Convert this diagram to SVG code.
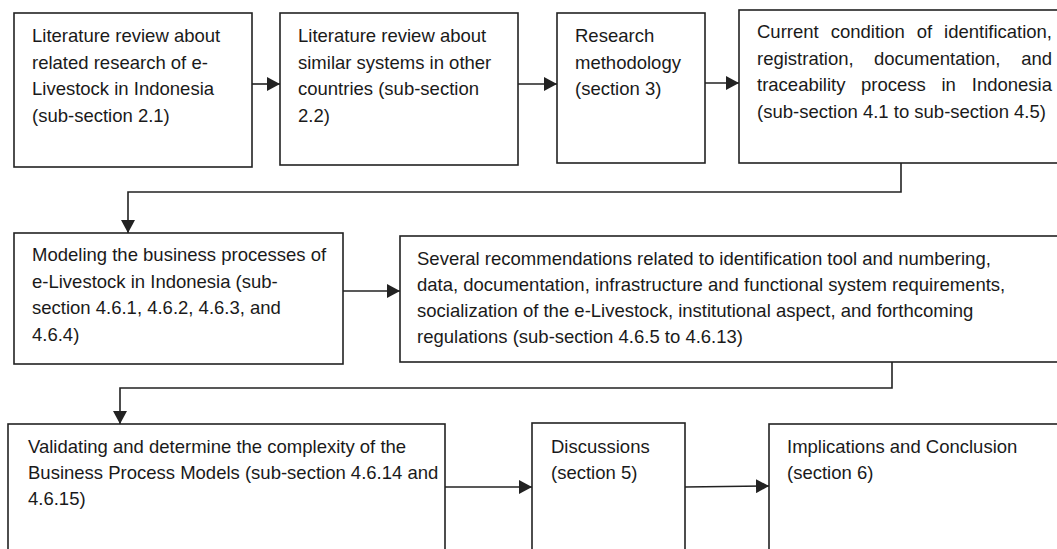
<svg xmlns="http://www.w3.org/2000/svg" width="1057" height="549" viewBox="0 0 1057 549">
<defs>
<style>
.box{fill:#fff;stroke:#222;stroke-width:1.6}
.t{font-family:"Liberation Sans",Arial,sans-serif;font-size:18.5px;fill:#1a1a1a}
.c{fill:none;stroke:#222;stroke-width:1.6}
</style>
<marker id="ah" markerUnits="userSpaceOnUse" markerWidth="13" markerHeight="14" refX="13" refY="7" orient="auto">
<path d="M0,0 L13,7 L0,14 z" fill="#222"/>
</marker>
</defs>
<rect width="1057" height="549" fill="#fff"/>
<g id="connectors">
<path class="c" d="M252,84 H280" marker-end="url(#ah)"/>
<path class="c" d="M518,84 H557" marker-end="url(#ah)"/>
<path class="c" d="M705,83 H739" marker-end="url(#ah)"/>
<path class="c" d="M901,163 V192 H128 V233" marker-end="url(#ah)"/>
<path class="c" d="M343,291 H400" marker-end="url(#ah)"/>
<path class="c" d="M892,362 V388 H120 V424" marker-end="url(#ah)"/>
<path class="c" d="M445,487 H532" marker-end="url(#ah)"/>
<path class="c" d="M685,487 L769,486" marker-end="url(#ah)"/>
</g>
<g id="n1">
<rect class="box" x="14" y="13" width="238" height="154"/>
<text class="t"><tspan x="32" y="42">Literature review about</tspan><tspan x="32" y="68.5">related research of e-</tspan><tspan x="32" y="95">Livestock in Indonesia</tspan><tspan x="32" y="121.5">(sub-section 2.1)</tspan></text>
</g>
<g id="n2">
<rect class="box" x="280" y="13" width="238" height="152"/>
<text class="t"><tspan x="298" y="42">Literature review about</tspan><tspan x="298" y="68.5">similar systems in other</tspan><tspan x="298" y="95">countries (sub-section</tspan><tspan x="298" y="121.5">2.2)</tspan></text>
</g>
<g id="n3">
<rect class="box" x="557" y="13" width="148" height="150"/>
<text class="t"><tspan x="575" y="42">Research</tspan><tspan x="575" y="68.5">methodology</tspan><tspan x="575" y="95">(section 3)</tspan></text>
</g>
<g id="n4">
<rect class="box" x="739" y="10" width="330" height="153"/>
<text class="t"><tspan x="757" y="38">Current</tspan><tspan x="830.7" y="38">condition</tspan><tspan x="916.7" y="38">of</tspan><tspan x="1052" y="38" text-anchor="end">identification,</tspan></text>
<text class="t"><tspan x="757" y="64.5">registration,</tspan><tspan x="874" y="64.5">documentation,</tspan><tspan x="1052" y="64.5" text-anchor="end">and</tspan></text>
<text class="t"><tspan x="757" y="91">traceability</tspan><tspan x="861" y="91">process</tspan><tspan x="941.5" y="91">in</tspan><tspan x="1052" y="91" text-anchor="end">Indonesia</tspan></text>
<text class="t"><tspan x="757" y="117.5">(sub-section 4.1 to sub-section 4.5)</tspan></text>
</g>
<g id="n5">
<rect class="box" x="14" y="233" width="329" height="131"/>
<text class="t"><tspan x="32" y="261">Modeling the business processes of</tspan><tspan x="32" y="287.5">e-Livestock in Indonesia (sub-</tspan><tspan x="32" y="314">section 4.6.1, 4.6.2, 4.6.3, and</tspan><tspan x="32" y="340.5">4.6.4)</tspan></text>
</g>
<g id="n6">
<rect class="box" x="400" y="236" width="670" height="126"/>
<text class="t"><tspan x="417" y="265">Several recommendations related to identification tool and numbering,</tspan><tspan x="417" y="291">data, documentation, infrastructure and functional system requirements,</tspan><tspan x="417" y="317">socialization of the e-Livestock, institutional aspect, and forthcoming</tspan><tspan x="417" y="343">regulations (sub-section 4.6.5 to 4.6.13)</tspan></text>
</g>
<g id="n7">
<rect class="box" x="8" y="424" width="437" height="140"/>
<text class="t"><tspan x="28" y="453">Validating and determine the complexity of the</tspan><tspan x="28" y="479">Business Process Models (sub-section 4.6.14 and</tspan><tspan x="28" y="505">4.6.15)</tspan></text>
</g>
<g id="n8">
<rect class="box" x="532" y="423" width="153" height="140"/>
<text class="t"><tspan x="551" y="453">Discussions</tspan><tspan x="551" y="479">(section 5)</tspan></text>
</g>
<g id="n9">
<rect class="box" x="769" y="424" width="300" height="140"/>
<text class="t"><tspan x="787" y="453">Implications and Conclusion</tspan><tspan x="787" y="479">(section 6)</tspan></text>
</g>
</svg>
